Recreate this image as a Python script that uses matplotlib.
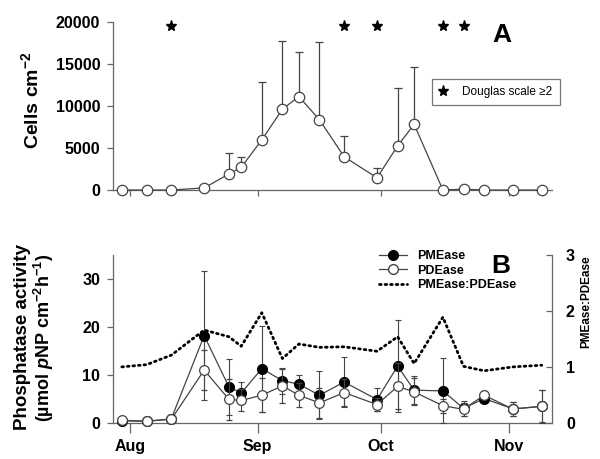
import numpy as np
import matplotlib
matplotlib.use('Agg')
import matplotlib.pyplot as plt
from matplotlib.lines import Line2D

plt.rcParams['font.family'] = 'Liberation Sans'
plt.rcParams['mathtext.fontset'] = 'custom'
plt.rcParams['mathtext.rm'] = 'Liberation Sans:bold'
plt.rcParams['mathtext.bf'] = 'Liberation Sans:bold'
plt.rcParams['mathtext.it'] = 'Liberation Sans:italic:bold'
plt.rcParams['mathtext.default'] = 'bf'

# sampling days, counted from 1 August
days = [-2, 4, 10, 18, 24, 27, 32, 37, 41, 46, 52, 60, 65, 69, 76, 81, 86, 93, 100]

# panel A: cell counts (upper error only)
cells = [0, 0, 0, 250, 1900, 2700, 5950, 9600, 11100, 8350, 3950, 1450, 5250, 7800, 0, 100, 0, 0, 0]
cells_err = [0, 0, 0, 0, 2500, 1180, 6900, 8100, 5330, 9250, 2500, 1120, 6900, 6850, 0, 0, 0, 0, 0]
star_days = [10, 52, 60, 76, 81]

# panel B: phosphatase activity
pme = [0.4, 0.3, 0.8, 18.2, 7.5, 6.2, 11.3, 8.8, 8.05, 5.75, 8.5, 4.85, 11.85, 6.8, 6.65, 3.0, 5.05, 2.9, 3.4]
pme_err = [0, 0, 0, 13.4, 5.9, 2.3, 9.0, 2.7, 2.0, 5.0, 5.2, 2.45, 9.7, 2.9, 6.8, 1.6, 0.9, 1.4, 3.4]
pde = [0.5, 0.35, 0.7, 11.0, 4.9, 4.65, 5.75, 7.7, 5.75, 4.15, 6.3, 3.8, 7.6, 6.45, 3.55, 2.8, 5.75, 2.85, 3.45]
pde_err = [0, 0, 0, 4.2, 4.3, 2.3, 3.5, 3.5, 2.5, 3.1, 2.8, 1.4, 4.8, 2.8, 1.5, 1.4, 0.8, 1.4, 3.4]
ratio = [1.0, 1.04, 1.21, 1.66, 1.54, 1.37, 1.97, 1.15, 1.41, 1.35, 1.36, 1.28, 1.54, 1.06, 1.89, 1.01, 0.93, 1.0, 1.03]

months = ['Aug', 'Sep', 'Oct', 'Nov']
month_days = [0, 31, 61, 92]

line_c = '#444444'
spine_c = '#666666'

fig = plt.figure(figsize=(6.0, 4.59), dpi=100)
axA = fig.add_axes([0.188, 0.586, 0.732, 0.367])
axB = fig.add_axes([0.188, 0.079, 0.732, 0.365])
axR = axB.twinx()

def style(ax):
    for s in ['top', 'right']:
        ax.spines[s].set_visible(False)
    for s in ['left', 'bottom']:
        ax.spines[s].set_color(spine_c)
        ax.spines[s].set_linewidth(0.9)
    ax.tick_params(colors=spine_c, labelcolor='black', labelsize=11.5, width=0.9)
    for lab in ax.get_yticklabels() + ax.get_xticklabels():
        lab.set_fontweight('bold')
    ax.set_xlim(-4.2, 102.5)

# ---- panel A
axA.errorbar(days, cells, yerr=[np.zeros(len(cells)), cells_err], color=line_c, lw=0.9,
             elinewidth=0.9, capsize=3, capthick=0.9, marker='o', ms=7.5, mfc='white',
             mec=line_c, mew=0.9, clip_on=False, zorder=3)
axA.plot(star_days, [19500] * len(star_days), linestyle='none', marker='*', ms=8,
         color='black', clip_on=False)
axA.set_ylim(0, 20000)
axA.set_yticks([0, 5000, 10000, 15000, 20000])
axA.set_xticks(month_days)
axA.set_xticklabels([])
style(axA)
axA.tick_params(axis='y', length=4, pad=5)
axA.tick_params(axis='x', length=4)
star_h = Line2D([], [], linestyle='none', marker='*', ms=8, color='black')
legA = axA.legend([star_h], ['Douglas scale \u22652'], loc='upper left',
                  bbox_to_anchor=(0.726, 0.658), borderaxespad=0, fontsize=8.5,
                  handlelength=0.8, handletextpad=1.2, borderpad=0.6,
                  fancybox=False, edgecolor='#777777', framealpha=1)
legA.get_frame().set_linewidth(0.9)

# ---- panel B
axB.errorbar(days, pme, yerr=pme_err, color=line_c, lw=0.9, elinewidth=0.8, capsize=2.5,
             capthick=0.8, marker='o', ms=7, mfc='black', mec='black', clip_on=False, zorder=3)
axB.errorbar(days, pde, yerr=pde_err, color=line_c, lw=0.9, elinewidth=0.8, capsize=2.5,
             capthick=0.8, marker='o', ms=7, mfc='white', mec=line_c, mew=0.9,
             clip_on=False, zorder=4)
axB.set_ylim(0, 35)
axB.set_yticks([0, 10, 20, 30])
axB.set_xticks(month_days)
axB.set_xticklabels(months)
style(axB)
axB.tick_params(axis='y', length=4, pad=5)
axB.tick_params(axis='x', length=7, pad=5)

axR.plot(days, ratio, color='black', lw=2, linestyle=(0, (0.6, 1.4)), dash_capstyle='round')
axR.set_ylim(0, 3)
axR.set_yticks([0, 1, 2, 3])
for s in ['top', 'left', 'bottom']:
    axR.spines[s].set_visible(False)
axR.spines['right'].set_color(spine_c)
axR.spines['right'].set_linewidth(0.9)
axR.tick_params(axis='y', direction='in', length=4, pad=10, colors=spine_c,
                labelcolor='black', labelsize=11.5, width=0.9)
for lab in axR.get_yticklabels():
    lab.set_fontweight('bold')

hB = [Line2D([], [], color=line_c, lw=0.9, marker='o', ms=7, mfc='black', mec='black'),
      Line2D([], [], color=line_c, lw=0.9, marker='o', ms=7, mfc='white', mec=line_c),
      Line2D([], [], color='black', lw=2, linestyle=(0, (0.6, 1.4)), dash_capstyle='round')]
legB = axB.legend(hB, ['PMEase', 'PDEase', 'PMEase:PDEase'], loc='upper left',
                  bbox_to_anchor=(0.607, 1.03), borderaxespad=0, borderpad=0,
                  frameon=False, prop={'size': 9, 'weight': 'bold'},
                  handlelength=2.24, handletextpad=0.8, labelspacing=0.2)

# labels
fig.text(31 / 600, 1 - 100 / 459, 'Cells cm$^{-2}$', rotation=90, ha='center', va='center',
         fontsize=14, fontweight='bold')
fig.text(23 / 600, 1 - 337.5 / 459, 'Phosphatase activity', rotation=90, ha='center',
         va='center', fontsize=13.5, fontweight='bold')
fig.text(44 / 600, 1 - 338 / 459, '(\u00b5mol $\\mathit{p}$NP cm$^{-2}$h$^{-1}$)', rotation=90,
         ha='center', va='center', fontsize=13, fontweight='bold')
fig.text(586 / 600, 1 - 302 / 459, 'PMEase:PDEase', rotation=90, ha='center', va='center',
         fontsize=8.5, fontweight='bold')
fig.text(501.7 / 600, 1 - 35 / 459, 'A', ha='center', va='center', fontsize=19, fontweight='bold')
fig.text(500.7 / 600, 1 - 265.7 / 459, 'B', ha='center', va='center', fontsize=19, fontweight='bold')

fig.savefig('out.png', dpi=100)
